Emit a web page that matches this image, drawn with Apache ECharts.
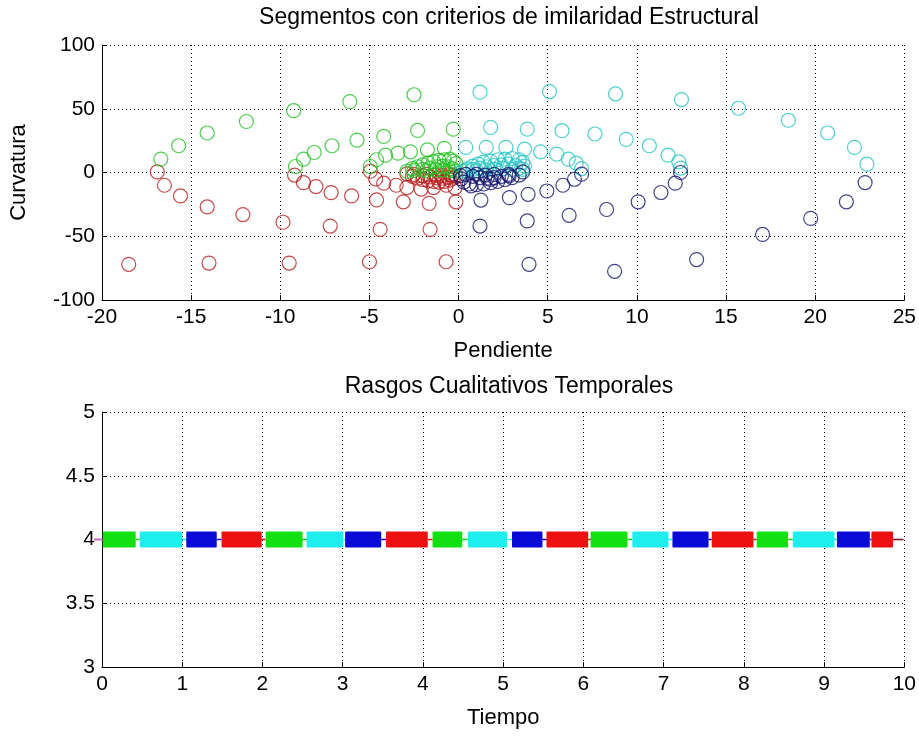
<!DOCTYPE html>
<html>
<head>
<meta charset="utf-8">
<script src="https://cdn.jsdelivr.net/npm/echarts@6/dist/echarts.min.js"></script>
<style>
html,body{margin:0;padding:0;background:#fff;}
#chart{width:919px;height:736px;}
</style>
</head>
<body>
<div id="chart"></div>
<script>
// ---------- Top plot: Pendiente (x) vs Curvatura (y) ----------
const redPoints = [
  [-16.9,0.5],[-16.5,-10],[-15.6,-18.4],[-14.1,-27],[-12.1,-33],[-9.85,-39],[-7.2,-42],[-4.4,-44.6],[-1.6,-44.6],
  [-18.5,-72],[-14,-71],[-9.5,-71],[-5,-70],[-0.7,-70],
  [-9.2,-2],[-8.7,-8],[-8.0,-11],[-7.15,-15.8],[-6.0,-18.4],[-4.6,-21.5],[-3.1,-23],[-1.65,-24.2],[-0.15,-23],
  [-4.95,1],[-4.65,-5],[-4.2,-8.4],[-3.5,-10],[-2.9,-11.8],[-2.1,-13],[-1.4,-11.8],[-0.7,-10],[-0.2,-12],
  [-2.9,-1],[-2.6,-3],[-2.3,-4.5],[-2,-5.5],[-1.7,-6.5],[-1.4,-7],[-1.1,-7.5],[-0.8,-7],[-0.5,-6],[-0.3,-4.5],[-0.15,-3],
  [-2.5,-1.5],[-2.0,-2.5],[-1.6,-3.5],[-1.2,-4.2],[-0.9,-4.5],[-0.6,-3.8],[-0.35,-2.5],[-1.8,-1.5],[-1.3,-2],[-0.9,-2.2],[-0.5,-1.5]
];
const greenPoints = [
  [-16.7,10.5],[-15.7,21],[-14.1,31],[-11.9,40],[-9.25,48.5],[-6.1,55.6],[-2.5,61],
  [-9.15,4.7],[-8.7,10.5],[-8.1,15.7],[-7.1,21],[-5.7,25.4],[-4.2,28.3],[-2.3,33],[-0.3,34],
  [-4.95,4.7],[-4.6,10],[-4.1,13.6],[-3.4,15.2],[-2.7,16.2],[-1.75,17.8],[-0.8,19],
  [-2.9,1],[-2.6,3],[-2.3,4.5],[-2,6],[-1.7,7.5],[-1.4,8.5],[-1.1,9.5],[-0.8,10],[-0.5,10.5],[-0.3,9],[-0.15,7],
  [-2.5,1.5],[-2.0,2.5],[-1.6,3.5],[-1.2,4.5],[-0.9,5],[-0.6,4.5],[-0.35,3],[-1.8,1.5],[-1.3,2],[-0.9,2],[-0.5,1.5],[-0.2,1]
];
const cyanPoints = [
  [1.2,63],[5.1,63.5],[8.8,61.7],[12.5,57.2],[15.7,50.4],[18.5,41],[20.7,31],[22.2,19.7],[22.9,6.5],
  [1.8,35.4],[3.85,34],[5.8,32.8],[7.65,30.2],[9.4,26],[10.7,21],[11.75,13.6],[12.35,8.4],[12.45,3.5],
  [0.4,19.7],[1.55,19.7],[2.65,19.7],[3.7,18.3],[4.6,16.2],[5.5,14.4],[6.15,10.5],[6.6,7.3],[6.9,3.1],
  [0.2,1],[0.5,3],[0.8,5],[1.1,6.5],[1.4,8],[1.8,9],[2.2,10],[2.6,10.5],[3,11],[3.4,10],[3.6,8],[3.7,5],[3.6,2.5],
  [0.4,1.5],[0.8,2.5],[1.2,3.5],[1.6,4.5],[2,5.5],[2.4,6],[2.8,6.5],[3.2,5.5],[3.4,3.5],[1,1.5],[1.5,2],[2,2.5],[2.5,3],[3,2.5]
];
const bluePoints = [
  [1.2,-42],[3.85,-38],[6.2,-33.6],[8.3,-29],[10.07,-23],[11.35,-15.7],[12.15,-8.4],[12.45,0],
  [3.95,-72],[8.75,-77.5],[13.35,-68.3],[17.05,-48.6],[19.75,-36],[21.75,-23],[22.8,-7.9],
  [6.9,-1.3],[6.5,-5.3],[5.85,-10],[4.95,-14.5],[3.9,-17.1],[2.85,-19.7],[1.25,-21.6],
  [3.6,0.5],[3.4,-2],[3,-4],[2.6,-5.5],[2.2,-7],[1.8,-8],[1.4,-9],[1,-9.5],[0.6,-9],[0.3,-7.5],[0.15,-5],[0.1,-2.5],
  [0.4,-1.5],[0.8,-3],[1.2,-4],[1.6,-4.5],[2,-4],[2.4,-3],[2.8,-1.5],[1,-1.5],[1.5,-2],[2,-1.5],[2.83,-2.7],[1.8,-5.3],[0.7,-10.5]
];
const topXTicks = [-20,-15,-10,-5,0,5,10,15,20,25];
const topYTicks = [-100,-50,0,50,100];

// ---------- Bottom plot: Tiempo segments at level 4 ----------
const segLevel = 4;
const segClass = ['green','cyan','blue','red','green','cyan','blue','red','green','cyan','blue','red','green','cyan','blue','red','green','cyan','blue','red'];
const segStart = [0.01,0.47,1.05,1.49,2.04,2.55,3.03,3.54,4.12,4.56,5.11,5.54,6.09,6.61,7.11,7.60,8.16,8.61,9.16,9.59];
const segEnd   = [0.42,1.00,1.43,1.99,2.50,3.01,3.48,4.06,4.49,5.05,5.49,6.06,6.55,7.06,7.56,8.12,8.55,9.13,9.57,9.86];
const tailEnd = 9.99;
const startMarker = [[0, 4]];
const bottomXTicks = [0,1,2,3,4,5,6,7,8,9,10];
const bottomYTicks = [3,3.5,4,4.5,5];

// ---------- styling ----------
const circleColors = {red:'#b81c1c', green:'#22c022', cyan:'#22c4c4', blue:'#14146e'};
const barColors = {green:'#12e012', cyan:'#1eeeee', blue:'#0a0ad6', red:'#ec1010'};
const FONT = 'Liberation Sans';

const chart = echarts.init(document.getElementById('chart'), null, {renderer:'canvas'});

function axisCommon(min, max, interval) {
  return {
    type:'value', min:min, max:max, interval:interval,
    axisLine:{show:true, onZero:false, lineStyle:{color:'#000', width:1}},
    axisTick:{show:true, inside:true, length:5, lineStyle:{color:'#000'}},
    splitLine:{show:true, lineStyle:{color:'#000', width:1, type:[1,3]}},
    axisLabel:{color:'#000', fontFamily:FONT, fontSize:21, margin:7},
    nameTextStyle:{color:'#000', fontFamily:FONT, fontSize:22},
    nameLocation:'middle'
  };
}

function circleSeries(points, color) {
  return {
    type:'scatter', xAxisIndex:0, yAxisIndex:0, data:points,
    symbol:'circle', symbolSize:14,
    itemStyle:{color:'rgba(0,0,0,0)', borderColor:color, borderWidth:1.2},
    emphasis:{disabled:true}, animation:false
  };
}

const segData = segStart.map((s, i) => [s, segEnd[i], i]);

const option = {
  backgroundColor:'#fff',
  animation:false,
  title:[
    {text:'Segmentos con criterios de imilaridad Estructural', left:504, top:1, textAlign:'center',
     textStyle:{fontFamily:FONT, fontSize:23, fontWeight:'normal', color:'#000'}},
    {text:'Rasgos Cualitativos Temporales', left:504, top:370, textAlign:'center',
     textStyle:{fontFamily:FONT, fontSize:23, fontWeight:'normal', color:'#000'}}
  ],
  grid:[
    {left:102, right:13, top:45, height:255, containLabel:false},
    {left:102, right:13, top:412, height:255, containLabel:false}
  ],
  xAxis:[
    Object.assign(axisCommon(topXTicks[0], topXTicks[topXTicks.length-1], 5), {gridIndex:0, name:'Pendiente', nameGap:40}),
    Object.assign(axisCommon(bottomXTicks[0], bottomXTicks[bottomXTicks.length-1], 1), {gridIndex:1, name:'Tiempo', nameGap:40})
  ],
  yAxis:[
    Object.assign(axisCommon(topYTicks[0], topYTicks[topYTicks.length-1], 50), {gridIndex:0, name:'Curvatura', nameGap:72}),
    Object.assign(axisCommon(bottomYTicks[0], bottomYTicks[bottomYTicks.length-1], 0.5), {gridIndex:1,
      axisLabel:{color:'#000', fontFamily:FONT, fontSize:21, margin:7, formatter:(v)=>String(v)}})
  ],
  series:[
    circleSeries(redPoints, circleColors.red),
    circleSeries(greenPoints, circleColors.green),
    circleSeries(cyanPoints, circleColors.cyan),
    circleSeries(bluePoints, circleColors.blue),
    {
      type:'custom', xAxisIndex:1, yAxisIndex:1, data:segData,
      encode:{x:[0,1]},
      renderItem:function(params, api){
        const s = api.value(0), e = api.value(1), idx = api.value(2);
        const p0 = api.coord([s, segLevel]);
        const p1 = api.coord([e, segLevel]);
        const col = barColors[segClass[idx]];
        const children = [];
        if (idx > 0) {
          const prevCol = barColors[segClass[idx-1]];
          const q0 = api.coord([segEnd[idx-1], segLevel]);
          children.push({type:'line', shape:{x1:q0[0], y1:q0[1], x2:p0[0], y2:p0[1]}, style:{stroke:prevCol, lineWidth:1.5}});
        }
        if (idx === segData.length - 1) {
          const t = api.coord([tailEnd, segLevel]);
          children.push({type:'line', shape:{x1:p1[0], y1:p1[1], x2:t[0], y2:t[1]}, style:{stroke:'#7a1010', lineWidth:1.5}});
        }
        children.push({type:'rect', shape:{x:p0[0], y:p0[1]-8, width:p1[0]-p0[0], height:16, r:1}, style:{fill:col}});
        return {type:'group', children:children};
      },
      animation:false
    },
    {
      type:'scatter', xAxisIndex:1, yAxisIndex:1, data:startMarker,
      symbol:'rect', symbolSize:[16,2], itemStyle:{color:'#c040c0'}, z:1, animation:false
    }
  ]
};
chart.setOption(option);
</script>
</body>
</html>
